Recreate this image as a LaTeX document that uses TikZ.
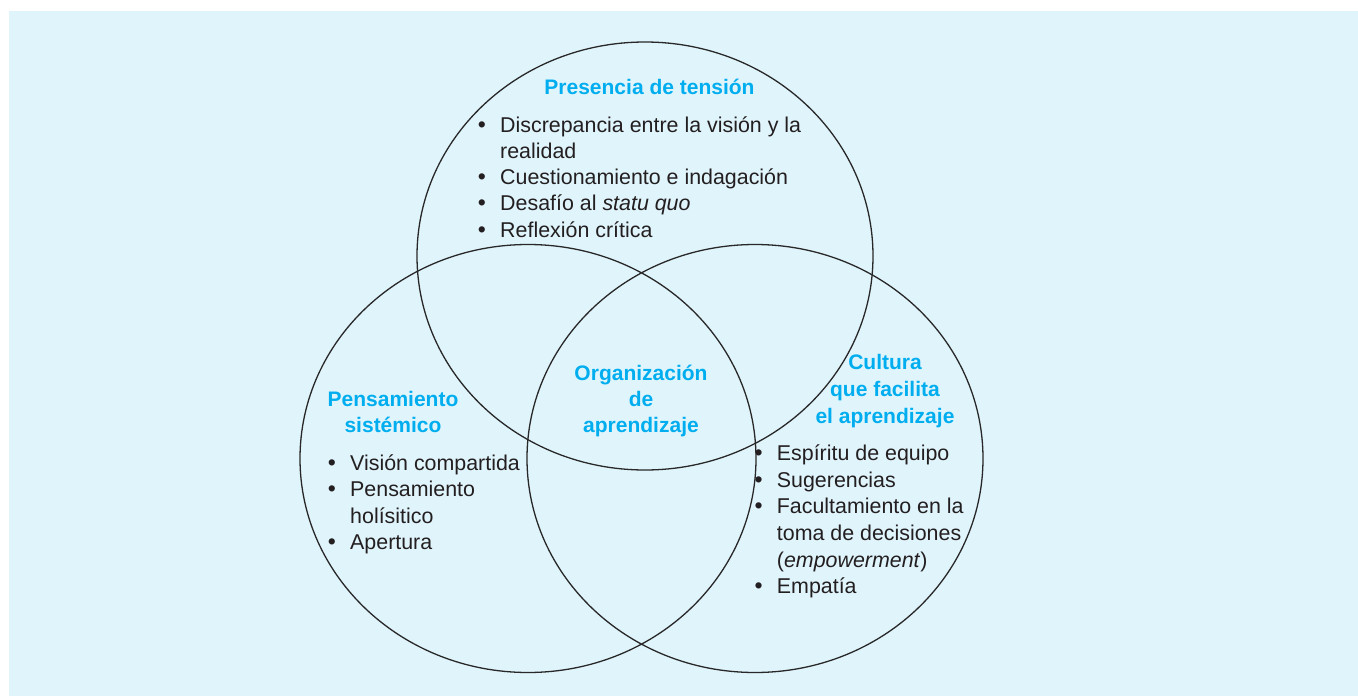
\documentclass[tikz,border=0pt]{standalone}
\usepackage{fontspec}
\setmainfont{Liberation Sans}
\definecolor{bgblue}{RGB}{224,244,252}
\definecolor{ttlcol}{RGB}{0,174,239}
\definecolor{txtcol}{RGB}{35,31,32}
\definecolor{ringcol}{RGB}{40,40,40}
\newcommand\bitem[4]{%
  \node[bulletnode] (#1b) at (#2-18,#3) {•};
  \node[itemtext] (#1) at (#2,#3) {#4};}
\newcommand\citem[4]{\node[itemtext] (#1) at (#2,#3) {#4};}
\newcommand\tline[4]{\node[ttlnode] (#1) at (#2,#3) {#4};}
\begin{document}
\begin{tikzpicture}[x=1pt,y=-1pt,
  ringline/.style={draw=ringcol,line width=1.3pt},
  ttlnode/.style={inner sep=0pt,anchor=base,font=\fontsize{21}{26.5}\selectfont\bfseries,text=ttlcol},
  itemtext/.style={inner sep=0pt,anchor=base west,font=\fontsize{21.4}{26.5}\selectfont,text=txtcol},
  bulletnode/.style={inner sep=0pt,anchor=base,font=\fontsize{23}{26.5}\selectfont,text=txtcol}]
\useasboundingbox (0,0) rectangle (1358,696);
\fill[bgblue] (9,11) rectangle (1358,696);
% circles
\draw[ringline] (645,256) ellipse [x radius=228pt, y radius=214pt];
\draw[ringline] (528,458.5) ellipse [x radius=228pt, y radius=214pt];
\draw[ringline] (755,458.5) ellipse [x radius=228pt, y radius=214pt];
% top
\tline{t1}{649.5}{94}{Presencia de tensión}
\bitem{a1}{500}{132}{Discrepancia entre la visión y la}
\citem{a1c}{500}{158.5}{realidad}
\bitem{a2}{500}{184.7}{Cuestionamiento e indagación}
\bitem{a3}{500}{210.9}{Desafío al \textit{statu quo}}
\bitem{a4}{500}{237.1}{Reflexión crítica}
% left
\tline{l1}{393}{406}{Pensamiento}
\tline{l2}{393}{432.7}{sistémico}
\bitem{b1}{350}{470.3}{Visión compartida}
\bitem{b2}{350}{496.8}{Pensamiento}
\citem{b2c}{350}{523.3}{holísitico}
\bitem{b3}{350}{549.8}{Apertura}
% right
\tline{r1}{885}{369.5}{Cultura}
\tline{r2}{885}{396.5}{que facilita}
\tline{r3}{885}{423.5}{el aprendizaje}
\bitem{c1}{776.7}{460.3}{Espíritu de equipo}
\bitem{c2}{776.7}{487}{Sugerencias}
\bitem{c3}{776.7}{513.6}{Facultamiento en la}
\citem{c3c}{776.7}{540.3}{toma de decisiones}
\citem{c3d}{776.7}{567}{(\textit{empowerment})}
\bitem{c4}{776.7}{593.6}{Empatía}
% center
\tline{m1}{641}{380}{Organización}
\tline{m2}{641}{406}{de}
\tline{m3}{641}{432}{aprendizaje}
\end{tikzpicture}
\end{document}
